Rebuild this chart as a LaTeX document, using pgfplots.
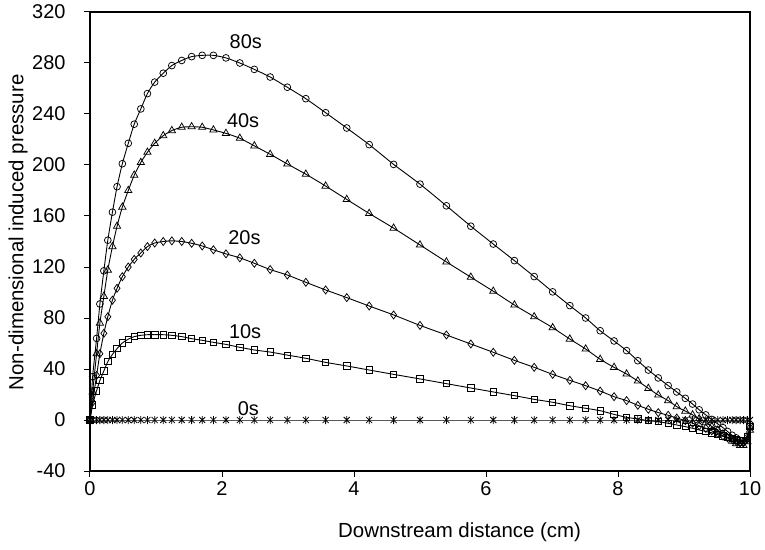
\documentclass[border=0pt]{standalone}
\usepackage{fontspec}
\setmainfont{Liberation Sans}
\usepackage{pgfplots}
\pgfplotsset{compat=1.18}
\usepackage{pgfplotstable}

% Star-shaped mark: a cross with a vertical stroke through it
\pgfdeclareplotmark{xstar}{%
  \pgfpathmoveto{\pgfqpoint{-0.75\pgfplotmarksize}{-0.75\pgfplotmarksize}}%
  \pgfpathlineto{\pgfqpoint{0.75\pgfplotmarksize}{0.75\pgfplotmarksize}}%
  \pgfpathmoveto{\pgfqpoint{-0.75\pgfplotmarksize}{0.75\pgfplotmarksize}}%
  \pgfpathlineto{\pgfqpoint{0.75\pgfplotmarksize}{-0.75\pgfplotmarksize}}%
  \pgfpathmoveto{\pgfqpoint{0pt}{-\pgfplotmarksize}}%
  \pgfpathlineto{\pgfqpoint{0pt}{\pgfplotmarksize}}%
  \pgfusepathqstroke
}

% Induced pressure along the channel at successive times
\pgfplotstableread{
x     s0  s10    s20    s40    s80
0     0   0      0      0      0
0.04  0   12     14     22     34
0.10  0   23     35     52     64
0.15  0   31     52     76     91
0.21  0   38.5   68     97     117
0.27  0   45.8   81     117.6  141
0.34  0   51.5   94     136    163
0.41  0   56     103.3  152    183
0.49  0   60.4   112.4  167    201
0.58  0   63.4   120    180    217
0.67  0   65.4   126    192    232
0.77  0   66.4   131    202    244
0.87  0   66.9   136    210    256
0.98  0   66.9   138.8  217    265
1.11  0   66.9   140    223    272
1.24  0   66.4   140.5  227    278
1.39  0   65.4   140    229.6  282
1.54  0   63.8   138.6  230    285
1.70  0   62.5   136.5  229.6  286
1.87  0   60.9   133.5  227.5  286
2.06  0   59.3   130.3  224.8  284
2.27  0   57     127.2  221    280
2.49  0   54.9   122.9  215    275
2.73  0   53.3   118    208.4  269
2.99  0   50.9   113.7  200.8  261
3.27  0   48.4   108    192.8  252
3.57  0   45.2   102    183.5  241
3.89  0   42.4   96     173    229
4.23  0   39.2   89.4   162    216
4.60  0   35.8   82.4   150.5  200.5
5.00  0   32.2   74.2   137.3  185
5.40  0   28.5   66.7   124    168
5.77  0   25.1   59.6   112    152
6.11  0   22     53.1   101    138
6.43  0   19.1   46.8   90.2   125
6.73  0   16.2   41.3   81     112.5
7.01  0   13.9   35.8   72.4   100.5
7.27  0   11.2   31.1   63.5   89.7
7.51  0   9.2    26.9   55.7   80
7.73  0   7.3    22.7   47.6   70
7.94  0   4.4    18.3   41.3   62
8.13  0   2.1    15.2   36.1   54.4
8.30  0   0.8    11.5   30.6   46.5
8.46  0   -0.5   8.4    24.8   39.2
8.61  0   -1.3   5.8    19.6   33
8.76  0   -2.6   3.7    15.2   27
8.89  0   -3.9   1.5    10.5   22
9.02  0   -5.2   -0.5   7      17
9.13  0   -6.5   -2.5   4      12.5
9.23  0   -7.8   -4.5   1      8
9.33  0   -9     -6.5   -2     4
9.42  0   -10    -8.5   -5     0.5
9.51  0   -11.5  -10.5  -8     -3
9.59  0   -12.5  -12.5  -11    -6
9.66  0   -13.5  -14    -14    -9
9.73  0   -14.5  -15.5  -16.5  -12
9.79  0   -15.5  -17    -18.5  -14
9.85  0   -16    -18    -20    -16
9.90  0   -16    -18    -20    -17
9.96  0   -13    -15    -17    -14
10    0   -5     -6     -8     -5
}\pressure

\begin{document}
\begin{tikzpicture}
\begin{axis}[
  scale only axis,
  width=660bp, height=459bp,
  xmin=0, xmax=10, ymin=-40, ymax=320,
  xtick={0,2,...,10},
  ytick={-40,0,...,320},
  tick align=outside,
  tick pos=left,
  major tick length=6bp,
  axis line style={line width=1.1bp},
  every tick/.style={line width=1bp, black},
  /pgf/number format/assume math mode=true,
  ticklabel style={font=\fontsize{20}{24}\selectfont},
  yticklabel style={xshift=-15bp},
  xticklabel style={yshift=-1bp},
  label style={font=\fontsize{20.5}{24}\selectfont},
  xlabel={Downstream distance (cm)},
  ylabel={Non-dimensional induced pressure},
  xlabel style={at={(axis description cs:0.56,-0.133)}, anchor=center},
  ylabel style={at={(axis description cs:-0.109,0.52)}, anchor=center},
  every axis plot/.append style={black, line width=0.9bp, smooth, tension=0.4},
  clip=false,
]
\addplot[mark=xstar, mark size=4bp, mark options={line width=0.8bp}] table[x=x, y=s0] {\pressure};
\addplot[mark=square, mark size=3.2bp, mark options={line width=0.75bp}] table[x=x, y=s10] {\pressure};
\addplot[mark=diamond, mark size=4bp, mark options={line width=0.75bp}] table[x=x, y=s20] {\pressure};
\addplot[mark=triangle, mark size=4.2bp, mark options={line width=0.75bp}] table[x=x, y=s40] {\pressure};
\addplot[mark=o, mark size=3.4bp, mark options={line width=0.75bp}] table[x=x, y=s80] {\pressure};

\begin{scope}[every node/.style={font=\fontsize{20}{24}\selectfont, inner sep=0pt}]
\node at (axis cs:2.36,296.7) {80s};
\node at (axis cs:2.32,234.7) {40s};
\node at (axis cs:2.34,143.3) {20s};
\node at (axis cs:2.35,69.3) {10s};
\node at (axis cs:2.40,9.2) {0s};
\end{scope}

\coordinate (bl) at (rel axis cs:0,0);
\coordinate (tr) at (rel axis cs:1,1);
\end{axis}
\pgfresetboundingbox
\path[use as bounding box] ([shift={(-90bp,-79bp)}]bl) rectangle ([shift={(15bp,12bp)}]tr);
\end{tikzpicture}
\end{document}
